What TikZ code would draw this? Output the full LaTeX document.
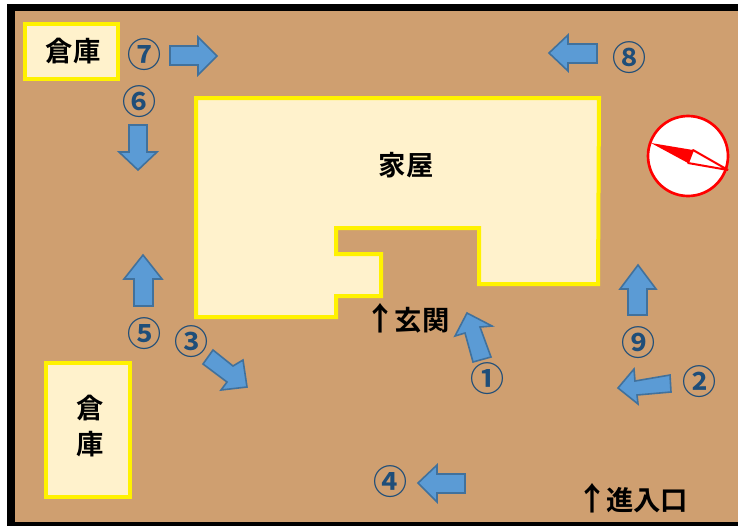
\documentclass[tikz,border=0pt]{standalone}
\usepackage{fontspec}
\setmainfont{Noto Sans CJK JP}
\newfontfamily\cjkb{Noto Sans CJK JP Bold}
\definecolor{ground}{HTML}{CF9F70}
\definecolor{bldg}{HTML}{FFF2CC}
\definecolor{arrowfill}{HTML}{5B9BD5}
\definecolor{arrowline}{HTML}{41719C}
\definecolor{numcol}{HTML}{1F4E79}
\tikzset{
  x=0.75pt,y=-0.75pt,
  building/.style={draw=yellow,fill=bldg,line width=3pt,line join=miter},
  blockarrow/.style={draw=arrowline,fill=arrowfill,line width=1.2pt,line join=miter},
  num/.style={text=numcol,font=\cjkb\fontsize{25.5}{26}\selectfont,inner sep=0pt},
  lbl/.style={text=black,font=\cjkb\fontsize{20.5}{21}\selectfont,inner sep=0pt},
}
\begin{document}
\begin{tikzpicture}
\useasboundingbox (0,0) rectangle (738,526);
\fill[white] (0,0) rectangle (738,526);
\fill[black] (7,4) rectangle (738,526);
\fill[ground] (15,11) rectangle (738,521.5);
% buildings
\draw[building] (25,24) rectangle (118,79);
\draw[building] (46,363) rectangle (130,497);
\draw[building] (196,98) -- (599,98) -- (598,284) -- (479,284) -- (479,228) -- (336,228) -- (336,254) -- (381,254) -- (381,296) -- (336,296) -- (336,317) -- (196,317) -- cycle;
\node[lbl] (soko1) at (73,51) {倉庫};
\node[lbl] (soko2a) at (90,408) {倉};
\node[lbl] (soko2b) at (90,444) {庫};
\node[lbl] (kaoku) at (406,165) {家屋};
\node[lbl] (genkan) at (407,318) {{\fontsize{24}{24}\selectfont ↑}\kern-1.5pt 玄関};
\node[lbl] (shinnyu) at (632,498) {{\fontsize{24}{24}\selectfont ↑}\kern-1.5pt 進入口};
% arrows
\draw[blockarrow] (170,46) -- (198,46) -- (198,37) -- (217,56) -- (198,75) -- (198,65) -- (170,65) -- cycle;
\draw[blockarrow] (129,125) -- (147,125) -- (147,152) -- (157,152) -- (138,170) -- (119,152) -- (129,152) -- cycle;
\draw[blockarrow] (134,306) -- (153,306) -- (153,279) -- (162,279) -- (143,255) -- (124,279) -- (134,279) -- cycle;
\draw[blockarrow] (213,350) -- (233,366) -- (243,360) -- (247,387) -- (221,390) -- (227,382) -- (203,364) -- cycle;
\draw[blockarrow] (491,357) -- (480,327) -- (492,326) -- (467,313) -- (455,336) -- (465,333) -- (473,362) -- cycle;
\draw[blockarrow] (670,375) -- (635,381) -- (634,369) -- (618,388) -- (638,404) -- (637,395) -- (671,392) -- cycle;
\draw[blockarrow] (465,474) -- (437,474) -- (437,465) -- (418,483) -- (437,502) -- (437,493) -- (465,493) -- cycle;
\draw[blockarrow] (628,315) -- (647,315) -- (647,289) -- (656,289) -- (638,265) -- (620,289) -- (628,289) -- cycle;
\draw[blockarrow] (597,44) -- (568,44) -- (568,35) -- (549,53) -- (568,71) -- (568,63) -- (597,63) -- cycle;
% numbers
\node[num] (n1) at (487,379) {①};
\node[num] (n2) at (699,382) {②};
\node[num] (n3) at (191,342) {③};
\node[num] (n4) at (390,482) {④};
\node[num] (n5) at (144,334) {⑤};
\node[num] (n6) at (139,102) {⑥};
\node[num] (n7) at (144,55) {⑦};
\node[num] (n8) at (629,58) {⑧};
\node[num] (n9) at (638,343) {⑨};
% compass
\draw[red,fill=white,line width=2pt] (688,156) circle[radius=40];
\fill[red] (651,143) -- (693,150) -- (688,163) -- cycle;
\draw[red,line width=1.5pt,line join=bevel] (693,150) -- (728,170) -- (688,163) -- cycle;
\end{tikzpicture}
\end{document}
